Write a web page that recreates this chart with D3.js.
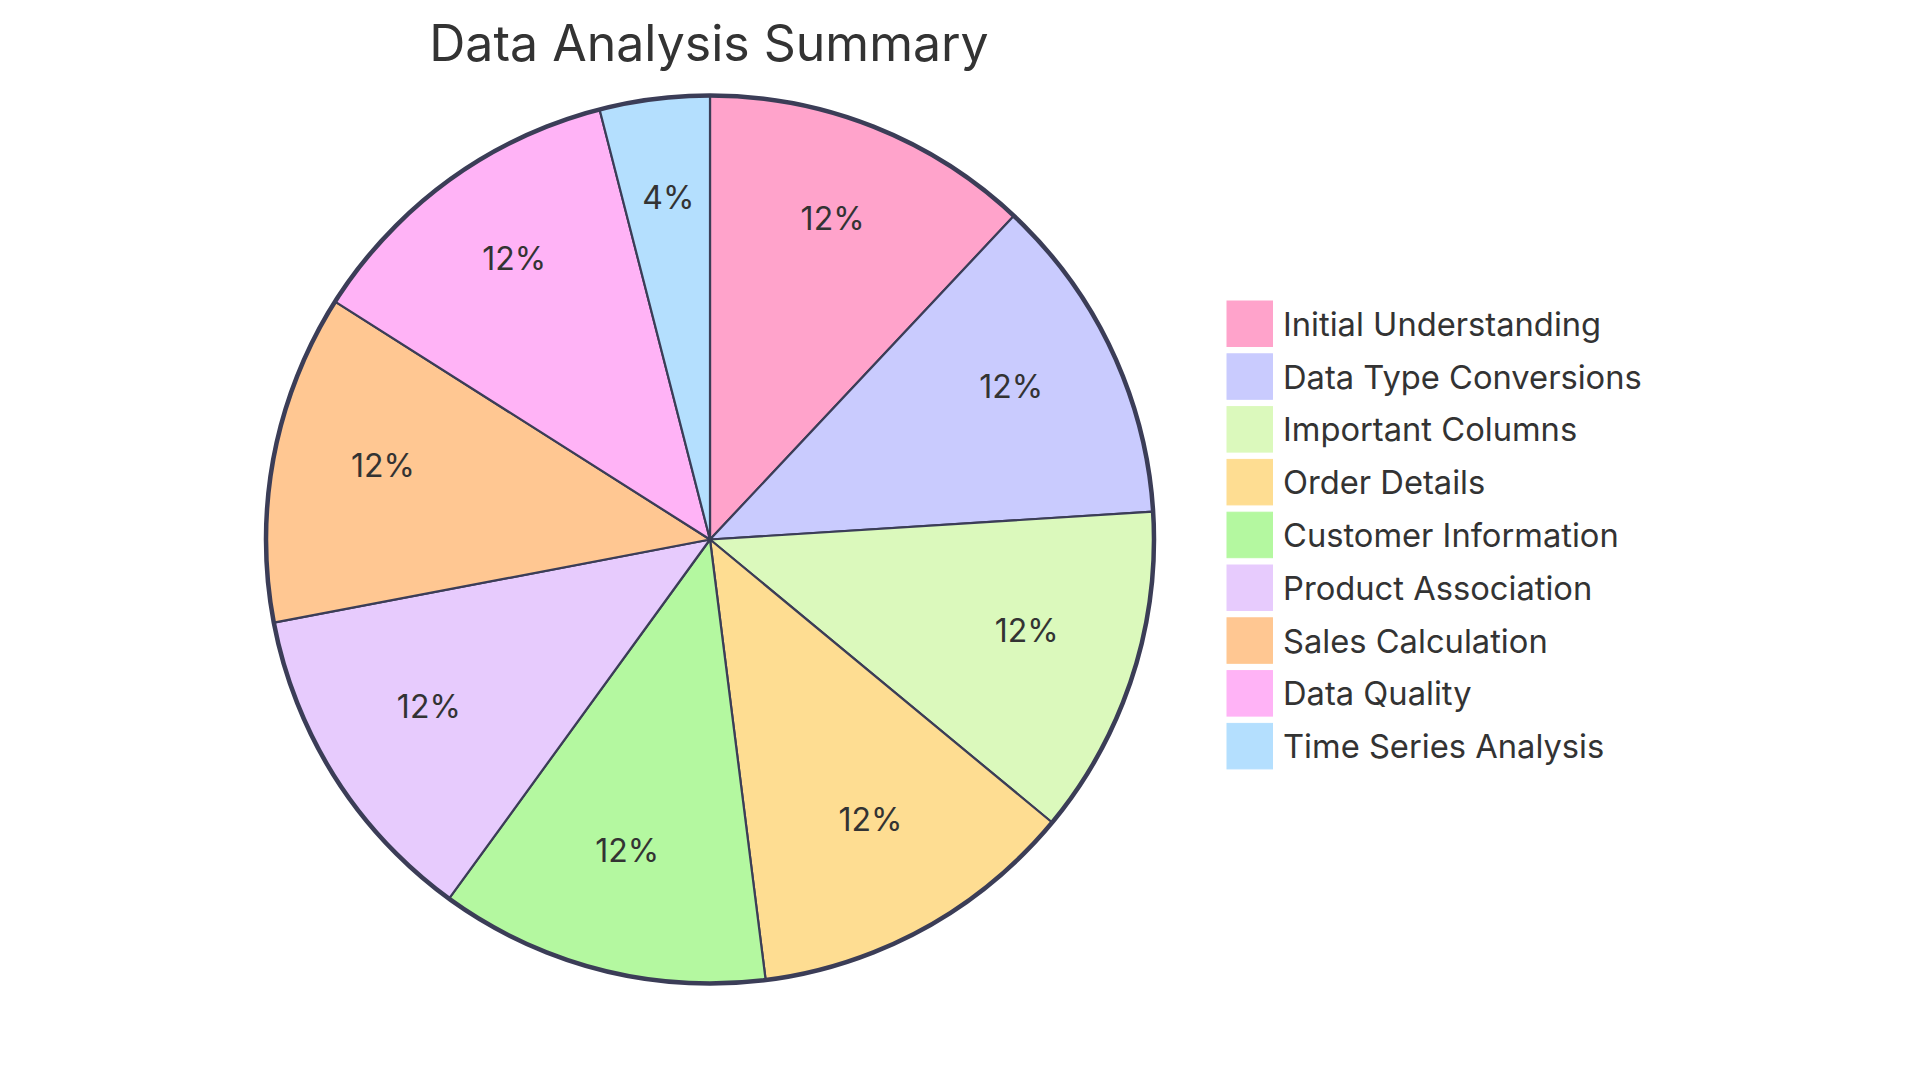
<!DOCTYPE html>
<html>
<head>
<meta charset="utf-8">
<script src="https://cdn.jsdelivr.net/npm/d3@7"></script>
<style>
  html, body { margin: 0; padding: 0; background: #ffffff; }
  svg { display: block; }
  text { font-family: Inter, "Open Sans", sans-serif; fill: #333333; }
</style>
</head>
<body>
<svg id="chart" width="1920" height="1080"></svg>
<script>
const title = "Data Analysis Summary";
const categories = [
  "Initial Understanding",
  "Data Type Conversions",
  "Important Columns",
  "Order Details",
  "Customer Information",
  "Product Association",
  "Sales Calculation",
  "Data Quality",
  "Time Series Analysis"
];
const values = [12, 12, 12, 12, 12, 12, 12, 12, 4];
const colors = ["#FFA3CB", "#C9CBFE", "#DBF9BC", "#FEDD92", "#B4F8A0", "#E7CBFD", "#FFC792", "#FFB3F6", "#B4DFFE"];

const svg = d3.select("#chart");
const cx = 710, cy = 539.5, radius = 444;
const strokeColor = "#3b3d57";

const data = categories.map((c, i) => ({ label: c, value: values[i], color: colors[i] }));
const total = d3.sum(values);

const pie = d3.pie().value(d => d.value).sort(null);
const arcs = pie(data);
const arc = d3.arc().innerRadius(0).outerRadius(radius);
const labelArc = d3.arc().innerRadius(radius * 0.75).outerRadius(radius * 0.75);

const g = svg.append("g").attr("transform", `translate(${cx},${cy})`);

g.selectAll("path.slice")
  .data(arcs)
  .join("path")
  .attr("class", "slice")
  .attr("d", arc)
  .attr("fill", d => d.data.color)
  .attr("stroke", strokeColor)
  .attr("stroke-width", 2.2)
  .attr("stroke-linejoin", "round");

g.append("circle")
  .attr("r", radius)
  .attr("fill", "none")
  .attr("stroke", strokeColor)
  .attr("stroke-width", 4.5);

g.selectAll("text.pct")
  .data(arcs)
  .join("text")
  .attr("class", "pct")
  .attr("transform", d => `translate(${labelArc.centroid(d)})`)
  .attr("text-anchor", "middle")
  .style("font-size", "32px")
  .text(d => Math.round(d.data.value / total * 100) + "%");

svg.append("text")
  .attr("x", 709)
  .attr("y", 61)
  .attr("text-anchor", "middle")
  .style("font-size", "50px")
  .text(title);

const legendY = d3.scaleBand().domain(categories).range([301, 301 + 52.8 * categories.length]).paddingInner(0);
const legend = svg.append("g");
const items = legend.selectAll("g.item")
  .data(data)
  .join("g")
  .attr("class", "item")
  .attr("transform", d => `translate(1227,${legendY(d.label)})`);
items.append("rect")
  .attr("width", 45.5)
  .attr("height", 45.5)
  .attr("fill", d => d.color)
  .attr("stroke", d => d.color)
  .attr("stroke-width", 1);
items.append("text")
  .attr("x", 56)
  .attr("y", 22.8)
  .attr("dominant-baseline", "central")
  .style("font-size", "32.7px")
  .text(d => d.label);
</script>
</body>
</html>
